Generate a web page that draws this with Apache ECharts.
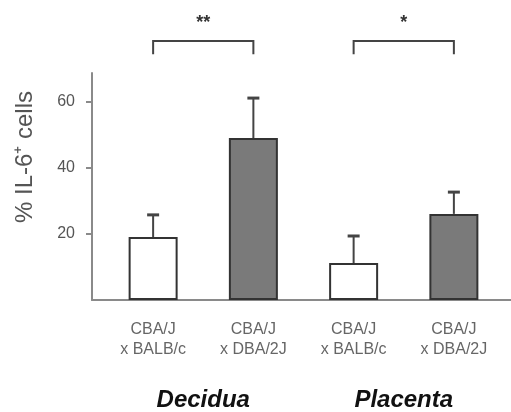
<!DOCTYPE html>
<html><head><meta charset="utf-8">
<script src="https://cdn.jsdelivr.net/npm/echarts@6/dist/echarts.min.js"></script>
<style>html,body{margin:0;padding:0;background:#fff}#c{width:511px;height:412px}</style>
</head><body><div id="c"></div>
<script>
const categories = ['CBA/J\nx BALB/c', 'CBA/J\nx DBA/2J', 'CBA/J\nx BALB/c', 'CBA/J\nx DBA/2J'];
const tissues = ['Decidua', 'Placenta'];
const means = [19.1, 49.1, 11.2, 26.1];
const errors = [6.7, 12.1, 8.2, 6.6];
const yTickValues = [20, 40, 60];
const brackets = [[0, 1, '**'], [2, 3, '*']];
const bracketTop = 78.5, bracketLeg = 74.5, starLevel = 84;
const yMax = 68.8;

const FONT = 'Liberation Sans, Arial, sans-serif';
const chart = echarts.init(document.getElementById('c'), null, {renderer: 'canvas'});
chart.setOption({
  animation: false,
  backgroundColor: '#fff',
  textStyle: {fontFamily: FONT},
  grid: [
    {left: 92, top: 73, width: 419, height: 227},
    {left: 92, top: 102, width: 419, height: 132},
    {left: 103, top: 73, width: 401, height: 227}
  ],
  xAxis: [
    {gridIndex: 0, type: 'value', min: 0, max: 1,
     axisLine: {show: true, lineStyle: {color: '#8a8a8a', width: 2}},
     axisTick: {show: false}, axisLabel: {show: false}, splitLine: {show: false}},
    {gridIndex: 1, type: 'value', min: 0, max: 1, show: false},
    {gridIndex: 2, type: 'category', data: categories, position: 'bottom',
     axisLine: {show: false}, axisTick: {show: false},
     axisLabel: {margin: 20, lineHeight: 20, fontSize: 16, color: '#666', fontFamily: FONT}},
    {gridIndex: 2, type: 'category', data: tissues, position: 'bottom',
     axisLine: {show: false}, axisTick: {show: false},
     axisLabel: {margin: 88, fontSize: 24, fontWeight: 'bold', fontStyle: 'italic', color: '#111', fontFamily: FONT}}
  ],
  yAxis: [
    {gridIndex: 0, type: 'value', min: 0, max: yMax,
     axisLine: {show: true, lineStyle: {color: '#8a8a8a', width: 2}},
     axisTick: {show: false}, axisLabel: {show: false}, splitLine: {show: false}},
    {gridIndex: 1, type: 'value', min: yTickValues[0], max: yTickValues[yTickValues.length - 1], interval: 20,
     axisLine: {show: false},
     axisTick: {show: true, length: 6, lineStyle: {color: '#8a8a8a', width: 2}},
     axisLabel: {fontSize: 16, color: '#555', margin: 17, fontFamily: FONT},
     splitLine: {show: false}},
    {gridIndex: 2, type: 'value', min: 0, max: yMax, show: false}
  ],
  graphic: [{
    type: 'text', x: 25, y: 157, rotation: Math.PI / 2,
    style: {text: '% IL-6⁺ cells', fontSize: 24, fontFamily: FONT, fill: '#555', align: 'center', verticalAlign: 'middle'}
  }],
  series: [
    {type: 'bar', xAxisIndex: 2, yAxisIndex: 2, barWidth: 49,
     data: means.map((v, i) => ({value: v, itemStyle: {color: i % 2 ? '#7a7a7a' : '#ffffff'}})),
     itemStyle: {borderColor: '#333', borderWidth: 2}},
    {type: 'custom', xAxisIndex: 2, yAxisIndex: 2, clip: false, z: 3,
     data: means.map((m, i) => [i, m, m + errors[i]]),
     renderItem: function (params, api) {
       const i = params.dataIndex;
       const lo = api.coord([i, means[i]]);
       const hi = api.coord([i, means[i] + errors[i]]);
       return {type: 'group', children: [
         {type: 'line', shape: {x1: lo[0], y1: lo[1], x2: hi[0], y2: hi[1]}, style: {stroke: '#444', lineWidth: 2}},
         {type: 'line', shape: {x1: hi[0] - 6, y1: hi[1], x2: hi[0] + 6, y2: hi[1]}, style: {stroke: '#444', lineWidth: 3}}
       ]};
     }},
    {type: 'custom', xAxisIndex: 2, yAxisIndex: 2, clip: false, z: 3,
     data: brackets.map(b => [b[0], bracketTop]),
     renderItem: function (params, api) {
       const b = brackets[params.dataIndex];
       const a1 = api.coord([b[0], bracketLeg]);
       const t1 = api.coord([b[0], bracketTop]);
       const t2 = api.coord([b[1], bracketTop]);
       const a2 = api.coord([b[1], bracketLeg]);
       const s = api.coord([b[0], starLevel]);
       return {type: 'group', children: [
         {type: 'polyline', shape: {points: [a1, t1, t2, a2]}, style: {stroke: '#444', lineWidth: 2, fill: null}},
         {type: 'text', style: {text: b[2], x: (t1[0] + t2[0]) / 2, y: s[1], align: 'center', verticalAlign: 'middle',
           fontSize: 18, fontWeight: 'bold', fontFamily: FONT, fill: '#333'}}
       ]};
     }}
  ]
});
</script></body></html>
